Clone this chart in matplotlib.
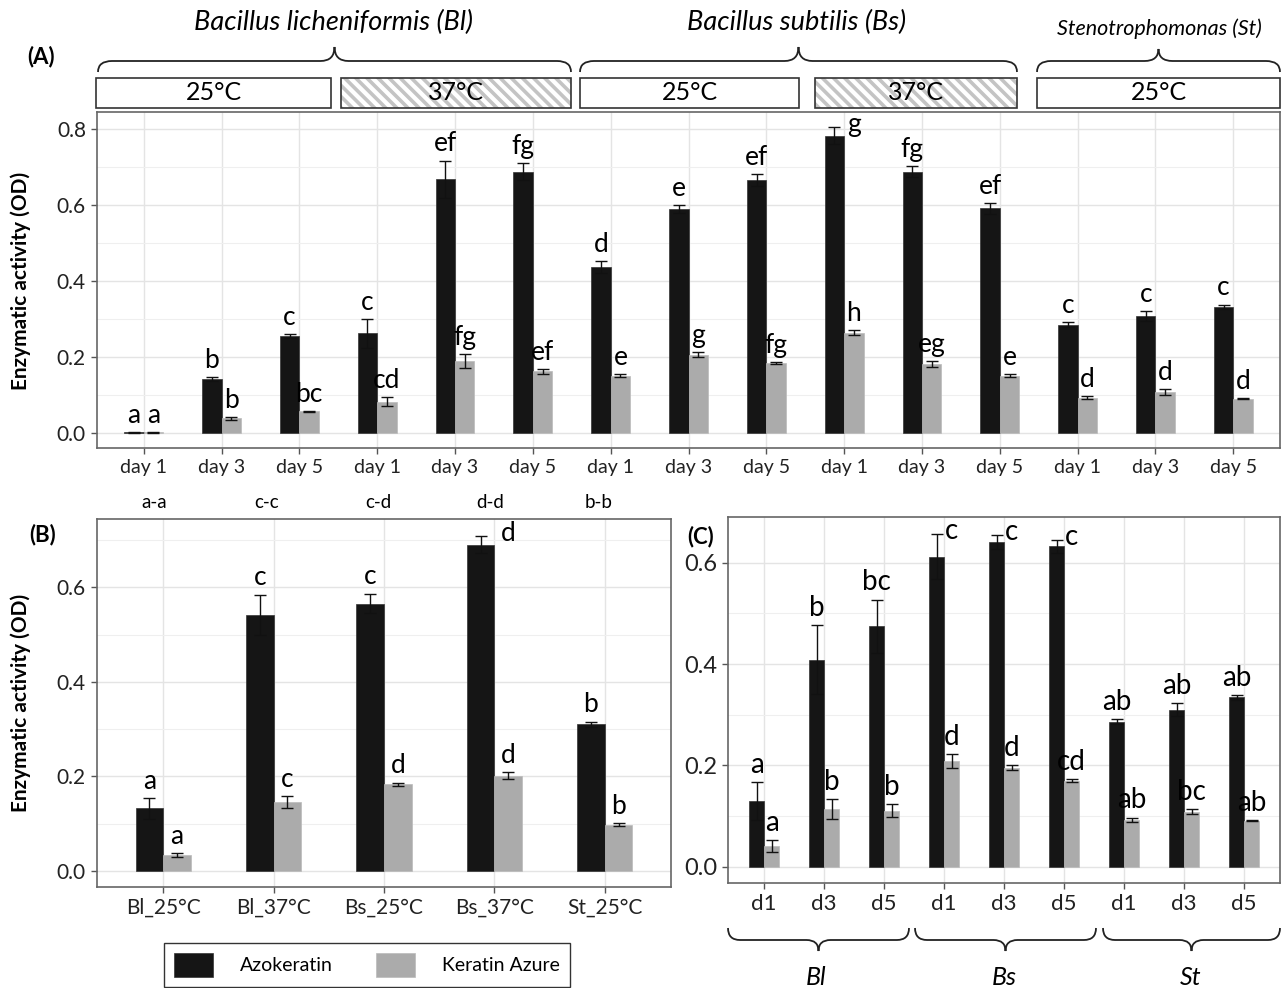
import numpy as np
import matplotlib.pyplot as plt
from matplotlib.patches import Rectangle, PathPatch
from matplotlib.path import Path
from matplotlib.ticker import MultipleLocator

plt.rcParams['font.family'] = ['Lato', 'DejaVu Sans']
plt.rcParams['hatch.linewidth'] = 2.6

BLACK = '#151515'
GRAY = '#ababab'
W = 0.25

# (A) strain x temperature x day
days_a = ['day 1', 'day 3', 'day 5'] * 5
azo_a = [0.001, 0.142, 0.255, 0.262, 0.669, 0.689, 0.437, 0.590, 0.667,
         0.784, 0.689, 0.592, 0.285, 0.309, 0.332]
azo_a_err = [0.001, 0.005, 0.006, 0.037, 0.049, 0.023, 0.015, 0.011, 0.016,
             0.022, 0.014, 0.014, 0.007, 0.013, 0.006]
azure_a = [0.001, 0.038, 0.057, 0.082, 0.189, 0.162, 0.151, 0.206, 0.184,
           0.264, 0.182, 0.151, 0.092, 0.108, 0.090]
azure_a_err = [0.001, 0.003, 0.001, 0.012, 0.018, 0.007, 0.004, 0.007, 0.003,
               0.007, 0.008, 0.003, 0.004, 0.008, 0.002]
azo_a_lab = ['a', 'b', 'c', 'c', 'ef', 'fg', 'd', 'e', 'ef', 'g', 'fg', 'ef', 'c', 'c', 'c']
azure_a_lab = ['a', 'b', 'bc', 'cd', 'fg', 'ef', 'e', 'g', 'fg', 'h', 'eg', 'e', 'd', 'd', 'd']

# (B) strain x temperature
groups_b = ['Bl_25°C', 'Bl_37°C', 'Bs_25°C', 'Bs_37°C', 'St_25°C']
azo_b = [0.133, 0.542, 0.566, 0.691, 0.310]
azo_b_err = [0.022, 0.043, 0.021, 0.017, 0.006]
azure_b = [0.034, 0.146, 0.183, 0.202, 0.098]
azure_b_err = [0.004, 0.012, 0.004, 0.008, 0.003]
azo_b_lab = ['a', 'c', 'c', 'd', 'b']
azure_b_lab = ['a', 'c', 'd', 'd', 'b']
pair_b = ['a-a', 'c-c', 'c-d', 'd-d', 'b-b']

# (C) strain x day
days_c = ['d1', 'd3', 'd5'] * 3
azo_c = [0.130, 0.408, 0.474, 0.612, 0.641, 0.632, 0.286, 0.310, 0.334]
azo_c_err = [0.037, 0.068, 0.053, 0.045, 0.014, 0.013, 0.005, 0.013, 0.005]
azure_c = [0.041, 0.114, 0.111, 0.209, 0.195, 0.170, 0.093, 0.109, 0.091]
azure_c_err = [0.011, 0.020, 0.013, 0.014, 0.005, 0.003, 0.004, 0.005, 0.001]
azo_c_lab = ['a', 'b', 'bc', 'c', 'c', 'c', 'ab', 'ab', 'ab']
azure_c_lab = ['a', 'b', 'b', 'd', 'd', 'cd', 'ab', 'bc', 'ab']

FW, FH = 1282, 988


def px_axes(fig, x0, y0, x1, y1):
    return fig.add_axes([x0 / FW, 1 - y1 / FH, (x1 - x0) / FW, (y1 - y0) / FH])


def style(ax, ylim, nx, xsize, ysize):
    ax.set_xlim(-0.6, nx - 0.4)
    ax.set_ylim(*ylim)
    ax.yaxis.set_major_locator(MultipleLocator(0.2))
    ax.yaxis.set_minor_locator(MultipleLocator(0.1))
    ax.set_axisbelow(True)
    ax.grid(which='major', color='#e4e4e4', lw=1.0)
    ax.grid(which='minor', axis='y', color='#efefef', lw=0.8)
    ax.tick_params(which='major', length=4, width=1, color='#555', labelcolor='#222', pad=4)
    ax.tick_params(axis='x', labelsize=xsize)
    ax.tick_params(axis='y', labelsize=ysize)
    ax.tick_params(which='minor', length=0)
    ax.yaxis.set_major_formatter(lambda v, p: f'{v:.1f}')
    for s in ax.spines.values():
        s.set_color('#666')
        s.set_linewidth(1.2)


def bars(ax, azo, azo_err, azure, azure_err, azo_lab, azure_lab, fs, side=()):
    x = np.arange(len(azo))
    ekw = dict(ecolor='#111', elinewidth=1, capsize=4, capthick=1)
    h1 = ax.bar(x - W / 2, azo, W, yerr=azo_err, color=BLACK, edgecolor='#333',
                linewidth=0.5, error_kw=ekw, label='Azokeratin')
    h2 = ax.bar(x + W / 2, azure, W, yerr=azure_err, color=GRAY, edgecolor='#bbb',
                linewidth=0.5, error_kw=ekw, label='Keratin Azure')
    for i in x:
        top = azo[i] + azo_err[i]
        if i in side:
            ax.annotate(azo_lab[i], (i + W / 2, top), xytext=(0, 2), textcoords='offset points',
                        ha='center', va='center', fontsize=fs)
        else:
            ax.annotate(azo_lab[i], (i - W / 2, top), xytext=(0, 3), textcoords='offset points',
                        ha='center', va='bottom', fontsize=fs)
        ax.annotate(azure_lab[i], (i + W / 2, azure[i] + azure_err[i]), xytext=(0, 3),
                    textcoords='offset points', ha='center', va='bottom', fontsize=fs)
    ax.set_xticks(x)
    return h1, h2


def brace(ax, x0, x1, y_end, y_line, y_tip, r=14):
    xm = (x0 + x1) / 2
    verts = [(x0, y_end), (x0, y_line), (x0 + r, y_line), (xm - r, y_line),
             (xm, y_line), (xm, y_tip), (xm, y_line), (xm + r, y_line),
             (x1 - r, y_line), (x1, y_line), (x1, y_end)]
    codes = [Path.MOVETO, Path.CURVE3, Path.CURVE3, Path.LINETO,
             Path.CURVE3, Path.CURVE3, Path.CURVE3, Path.CURVE3,
             Path.LINETO, Path.CURVE3, Path.CURVE3]
    ax.add_patch(PathPatch(Path(verts, codes), fill=False, edgecolor='#222', lw=1.3))


fig = plt.figure(figsize=(12.82, 9.88), dpi=100)

# panel A
ax_a = px_axes(fig, 97, 112, 1280, 448)
style(ax_a, (-0.040, 0.846), 15, 14, 15)
bars(ax_a, azo_a, azo_a_err, azure_a, azure_a_err, azo_a_lab, azure_a_lab, 19, side=(9,))
ax_a.set_xticklabels(days_a)

# panel B
ax_b = px_axes(fig, 97, 519, 671, 887)
style(ax_b, (-0.034, 0.745), 5, 15, 15)
h1, h2 = bars(ax_b, azo_b, azo_b_err, azure_b, azure_b_err, azo_b_lab, azure_b_lab, 19, side=(3,))
ax_b.set_xticklabels(groups_b)

# panel C
ax_c = px_axes(fig, 728, 517, 1280, 883)
style(ax_c, (-0.032, 0.690), 9, 16, 17)
bars(ax_c, azo_c, azo_c_err, azure_c, azure_c_err, azo_c_lab, azure_c_lab, 20, side=(3, 4, 5))
ax_c.set_xticklabels(days_c)

# overlay in pixel coordinates for headers, braces and notes
ov = fig.add_axes([0, 0, 1, 1], facecolor='none', zorder=5)
ov.set_xlim(0, FW)
ov.set_ylim(FH, 0)
ov.axis('off')

ov.text(333, 22, 'Bacillus licheniformis (Bl)', style='italic', fontsize=19.5, ha='center', va='center')
ov.text(797, 22, 'Bacillus subtilis (Bs)', style='italic', fontsize=19.5, ha='center', va='center')
ov.text(1159, 29, 'Stenotrophomonas (St)', style='italic', fontsize=15.5, ha='center', va='center')

brace(ov, 98, 571, 72, 61, 47)
brace(ov, 580, 1017, 72, 61, 47)
brace(ov, 1037, 1280, 72, 61, 49)

boxes = [(96, 331, '25°C', False), (341, 571, '37°C', True), (580, 799, '25°C', False),
         (815, 1017, '37°C', True), (1037, 1280, '25°C', False)]
for x0, x1, lab, hatched in boxes:
    if hatched:
        ov.add_patch(Rectangle((x0, 78), x1 - x0, 30, facecolor='white',
                               edgecolor='#c4c4c4', hatch='\\\\\\', lw=0))
    ov.add_patch(Rectangle((x0, 78), x1 - x0, 30, facecolor='none', edgecolor='#333', lw=1.2))
    ov.text((x0 + x1) / 2, 93, lab, fontsize=18, ha='center', va='center')

ov.text(41, 57, '(A)', fontsize=16, fontweight='bold', ha='center', va='center')
ov.text(43, 535, '(B)', fontsize=16, fontweight='bold', ha='center', va='center')
ov.text(701, 537, '(C)', fontsize=16, fontweight='bold', ha='center', va='center')

ov.text(21, 281, 'Enzymatic activity (OD)', rotation=90, fontsize=15, fontweight='bold',
        ha='center', va='center')
ov.text(21, 703, 'Enzymatic activity (OD)', rotation=90, fontsize=15, fontweight='bold',
        ha='center', va='center')

for xp, lab in zip([154, 267, 378, 490, 599], pair_b):
    ov.text(xp, 502, lab, fontsize=13.5, ha='center', va='center')

brace(ov, 728, 909, 928, 940, 951, r=12)
brace(ov, 915, 1096, 928, 940, 951, r=12)
brace(ov, 1103, 1280, 928, 940, 951, r=12)
for xp, lab in zip([816, 1004, 1191], ['Bl', 'Bs', 'St']):
    ov.text(xp, 977, lab, style='italic', fontsize=18, ha='center', va='center')

fig.legend(handles=[h1, h2], loc='center', bbox_to_anchor=(367 / FW, 1 - 965 / FH), ncol=2,
           fontsize=14, handlelength=2.0, handleheight=1.6, columnspacing=2.2,
           handletextpad=1.4, fancybox=False, edgecolor='#333', framealpha=1,
           borderpad=0.5, borderaxespad=0)
leg = fig.legends[0]
leg._legend_box.sep = 0
leg.get_frame().set_linewidth(1.0)

fig.savefig('out.png', dpi=100)
